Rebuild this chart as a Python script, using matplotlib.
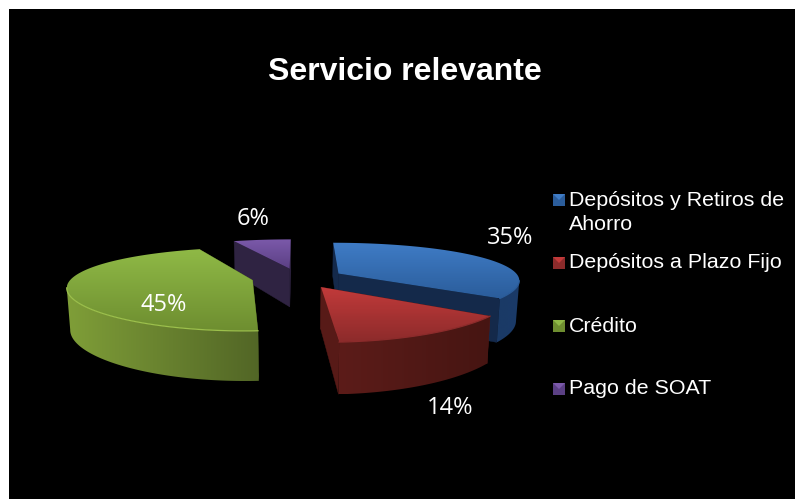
import numpy as np
import matplotlib
matplotlib.use('Agg')
import matplotlib.pyplot as plt
from matplotlib.colors import LinearSegmentedColormap
from matplotlib.patches import Rectangle, Polygon

titulo = 'Servicio relevante'
categorias = ['Depósitos y Retiros de', 'Depósitos a Plazo Fijo', 'Crédito', 'Pago de SOAT']
valores = [35, 14, 45, 6]
etiquetas = ['35%', '14%', '45%', '6%']

# colores: tapa arriba, tapa abajo, pared izq, pared der, pared lateral, borde
tapa_alto = ['#3f7cc6', '#c23a3a', '#8fb946', '#7b59aa']
tapa_bajo = ['#2b5d9b', '#8c2b2b', '#6e8e30', '#5b4084']
pared_izq = ['#1b3a66', '#5c1c19', '#7f9e38', '#33264a']
pared_der = ['#1a3a68', '#461512', '#526626', '#2c2040']
pared_lado = ['#14294a', '#571a17', '#526626', '#2f2342']
borde = ['#2b5d9b', '#8c2b2b', '#9cc04c', '#5b4084']

pos_etiquetas = [(510, 238), (450, 408), (164, 305), (253, 219)]
pos_leyenda = [200, 263, 326, 389]

# proyeccion del pastel
cx, cy = 298, 278
f, g, k, kx = 181, 39, 0.21, 0.15
explode = 0.255
alto = 40


def proyecta(u, v):
    w = 1 + k * v
    return cx + f * u / (1 + kx * v), cy - g * v / w, alto / w ** 0.9


def abajo(x, y, h):
    return cx + (x - cx) * 0.985, y + h


def degradado(ax, px, py, c0, c1, z, vertical=True):
    # relleno con degradado recortado al poligono
    cmap = LinearSegmentedColormap.from_list('t', [c0, c1])
    datos = np.linspace(0, 1, 128)
    datos = datos.reshape(-1, 1) if vertical else datos.reshape(1, -1)
    im = ax.imshow(datos, cmap=cmap, aspect='auto',
                   extent=(min(px), max(px), max(py), min(py)), zorder=z)
    poli = Polygon(np.c_[px, py], closed=True, transform=ax.transData, fc='none', ec='none')
    ax.add_patch(poli)
    im.set_clip_path(poli)


fig = plt.figure(figsize=(7.95, 4.99), dpi=100, facecolor='white')
ax = fig.add_axes([0, 0, 1, 1])
ax.set_xlim(0, 795)
ax.set_ylim(499, 0)
ax.axis('off')
ax.add_patch(Rectangle((9, 9), 790, 495, fc='black', ec='none', zorder=0))

total = sum(valores)
cortes = np.cumsum([0] + valores) / total * 2 * np.pi
z = 1
for i in [3, 0, 2, 1]:
    t0, t1 = cortes[i], cortes[i + 1]
    tm = (t0 + t1) / 2
    ox, oy = explode * np.sin(tm), explode * np.cos(tm)
    th = np.linspace(t0, t1, max(int(np.degrees(t1 - t0)), 4))
    ax0, ay0, ah0 = proyecta(ox, oy)
    ux, uy, uh = proyecta(ox + np.sin(th), oy + np.cos(th))

    # paredes rectas
    for j in [0, -1]:
        bx0, by0 = abajo(ax0, ay0, ah0)
        bx1, by1 = abajo(ux[j], uy[j], uh[j])
        ax.fill([ax0, ux[j], bx1, bx0], [ay0, uy[j], by1, by0], color=pared_lado[i], lw=0.3, zorder=z)
    z += 1

    # pared exterior: solo la parte que mira al frente
    frente = np.r_[np.diff(ux) < 0, False] | np.r_[False, np.diff(ux) < 0]
    if frente.sum() > 1:
        fx, fy, fh = ux[frente], uy[frente], uh[frente]
        bx, by = abajo(fx, fy, fh)
        degradado(ax, np.r_[fx, bx[::-1]], np.r_[fy, by[::-1]], pared_izq[i], pared_der[i], z, vertical=False)
    z += 1

    # tapa con degradado vertical
    px = np.r_[ax0, ux]
    py = np.r_[ay0, uy]
    degradado(ax, px, py, tapa_alto[i], tapa_bajo[i], z)
    z += 1
    if frente.sum() > 1:
        ax.plot(fx, fy, color=borde[i], lw=0.9, zorder=z)
    z += 1

ax.set_xlim(0, 795)
ax.set_ylim(499, 0)

for txt, (x, y) in zip(etiquetas, pos_etiquetas):
    ax.text(x, y, txt, color='white', fontsize=17, family='Open Sans', ha='center', va='center', zorder=50)

ax.text(405, 71.5, titulo, color='white', fontsize=23, fontweight='bold', family='Liberation Sans',
        ha='center', va='center', zorder=50)

# leyenda con cuadritos biselados
for i, y in enumerate(pos_leyenda):
    x0, x1, y0, y1 = 553, 565, y - 6, y + 6
    xm, ym = (x0 + x1) / 2, (y0 + y1) / 2
    ax.fill([x0, x1, x1, x0], [y0, y0, y1, y1], color=tapa_bajo[i], lw=0, zorder=50)
    ax.fill([x0, x1, xm], [y0, y0, ym], color=tapa_alto[i], lw=0, zorder=51)
    ax.text(569, y, categorias[i], color='white', fontsize=15.4, family='Liberation Sans',
            ha='left', va='center', zorder=50)
ax.text(569, 225, 'Ahorro', color='white', fontsize=15.4, family='Liberation Sans',
        ha='left', va='center', zorder=50)

fig.savefig('out.png', dpi=100, facecolor='white')
